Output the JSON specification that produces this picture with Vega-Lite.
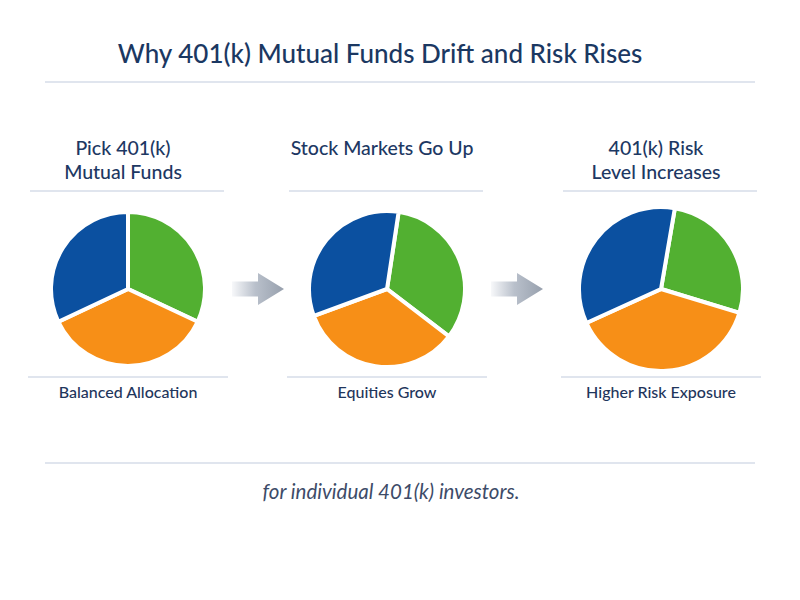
{
  "$schema": "https://vega.github.io/schema/vega-lite/v6.json",
  "width": 800,
  "height": 600,
  "padding": 0,
  "autosize": "none",
  "background": "#ffffff",
  "config": {
    "view": {"stroke": null},
    "font": "Lato",
    "text": {"font": "Lato"}
  },
  "datasets": {
    "funds": [
      {"step": 1, "fund": "Bonds", "share": 32},
      {"step": 1, "fund": "International", "share": 36},
      {"step": 1, "fund": "US Stocks", "share": 32},
      {"step": 2, "fund": "Bonds", "share": 33},
      {"step": 2, "fund": "International", "share": 34},
      {"step": 2, "fund": "US Stocks", "share": 33},
      {"step": 3, "fund": "Bonds", "share": 27},
      {"step": 3, "fund": "International", "share": 38.5},
      {"step": 3, "fund": "US Stocks", "share": 34.5}
    ],
    "stages": [
      {"step": 1, "heading": "Pick 401(k)\nMutual Funds", "caption": "Balanced Allocation", "next": true},
      {"step": 2, "heading": "Stock Markets Go Up", "caption": "Equities Grow", "next": true},
      {"step": 3, "heading": "401(k) Risk\nLevel Increases", "caption": "Higher Risk Exposure", "next": false}
    ],
    "notes": [
      {"title": "Why 401(k) Mutual Funds Drift and Risk Rises", "note": "for individual 401(k) investors."}
    ]
  },
  "resolve": {"scale": {"theta": "independent"}},
  "layer": [
    {
      "data": {"name": "notes"},
      "mark": {"type": "text", "fontSize": 26, "fontWeight": 500, "color": "#1b3862", "align": "center", "baseline": "alphabetic", "xOffset": -7},
      "encoding": {
        "x": {"datum": 2, "type": "quantitative", "axis": null,
              "scale": {"domain": [1, 2, 3], "range": [128, 387, 661], "nice": false, "zero": false}},
        "y": {"datum": 1, "type": "quantitative", "axis": null,
              "scale": {"domain": [1, 2, 3, 4, 5, 6, 7, 8, 9],
                        "range": [63, 82, 140, 191, 289, 377, 393, 463, 493], "nice": false, "zero": false}},
        "text": {"field": "title"}
      }
    },
    {
      "data": {"name": "notes"},
      "mark": {"type": "rule", "color": "#d6dde9", "strokeWidth": 1.5, "xOffset": -83, "x2Offset": 94},
      "encoding": {
        "x": {"datum": 1, "type": "quantitative"},
        "x2": {"datum": 3},
        "y": {"datum": 2, "type": "quantitative"}
      }
    },
    {
      "data": {"name": "stages"},
      "mark": {"type": "text", "fontSize": 19.5, "fontWeight": 500, "color": "#1d3863", "align": "center", "baseline": "top", "lineBreak": "\n", "lineHeight": 24, "xOffset": -5},
      "encoding": {
        "x": {"field": "step", "type": "quantitative"},
        "y": {"datum": 3, "type": "quantitative"},
        "text": {"field": "heading"}
      }
    },
    {
      "data": {"name": "stages"},
      "mark": {"type": "rule", "color": "#d6dde9", "strokeWidth": 1.5, "xOffset": -98, "x2Offset": 96},
      "encoding": {
        "x": {"field": "step", "type": "quantitative"},
        "x2": {"field": "step"},
        "y": {"datum": 4, "type": "quantitative"}
      }
    },
    {
      "data": {"name": "funds"},
      "transform": [{"filter": "datum.step === 1"}],
      "mark": {"type": "arc", "outerRadius": 77, "stroke": "#ffffff", "strokeWidth": 4},
      "encoding": {
        "x": {"datum": 1, "type": "quantitative"},
        "y": {"datum": 5, "type": "quantitative"},
        "theta": {"field": "share", "type": "quantitative", "stack": true, "scale": {"range": [0, 6.2832]}},
        "order": {"field": "fund"},
        "color": {"field": "fund", "type": "nominal", "legend": null,
                  "scale": {"domain": ["Bonds", "International", "US Stocks"], "range": ["#52b031", "#f78f17", "#0b50a0"]}}
      }
    },
    {
      "data": {"name": "funds"},
      "transform": [{"filter": "datum.step === 2"}],
      "mark": {"type": "arc", "outerRadius": 78, "stroke": "#ffffff", "strokeWidth": 4},
      "encoding": {
        "x": {"datum": 2, "type": "quantitative"},
        "y": {"datum": 5, "type": "quantitative"},
        "theta": {"field": "share", "type": "quantitative", "stack": true, "scale": {"range": [0.15, 6.4332]}},
        "order": {"field": "fund"},
        "color": {"field": "fund", "type": "nominal", "legend": null}
      }
    },
    {
      "data": {"name": "funds"},
      "transform": [{"filter": "datum.step === 3"}],
      "mark": {"type": "arc", "outerRadius": 82, "stroke": "#ffffff", "strokeWidth": 4},
      "encoding": {
        "x": {"datum": 3, "type": "quantitative"},
        "y": {"datum": 5, "type": "quantitative"},
        "theta": {"field": "share", "type": "quantitative", "stack": true, "scale": {"range": [0.17, 6.4532]}},
        "order": {"field": "fund"},
        "color": {"field": "fund", "type": "nominal", "legend": null}
      }
    },
    {
      "data": {"name": "stages"},
      "transform": [{"filter": "datum.next"}],
      "mark": {
        "type": "point",
        "filled": true,
        "opacity": 1,
        "size": 2704,
        "xOffset": 130,
        "shape": "M -1 -0.29 L 0 -0.29 L 0 -0.62 L 1 0 L 0 0.62 L 0 0.29 L -1 0.29 Z",
        "fill": {
          "gradient": "linear", "x1": 0, "y1": 0, "x2": 1, "y2": 0,
          "stops": [
            {"offset": 0, "color": "#f7f8fa"},
            {"offset": 0.45, "color": "#b9c0cb"},
            {"offset": 1, "color": "#97a0ad"}
          ]
        },
        "strokeWidth": 0
      },
      "encoding": {
        "x": {"field": "step", "type": "quantitative"},
        "y": {"datum": 5, "type": "quantitative"}
      }
    },
    {
      "data": {"name": "stages"},
      "mark": {"type": "rule", "color": "#d6dde9", "strokeWidth": 1.5, "xOffset": -100, "x2Offset": 100},
      "encoding": {
        "x": {"field": "step", "type": "quantitative"},
        "x2": {"field": "step"},
        "y": {"datum": 6, "type": "quantitative"}
      }
    },
    {
      "data": {"name": "stages"},
      "mark": {"type": "text", "fontSize": 16, "fontWeight": 500, "color": "#1f365c", "align": "center", "baseline": "middle"},
      "encoding": {
        "x": {"field": "step", "type": "quantitative"},
        "y": {"datum": 7, "type": "quantitative"},
        "text": {"field": "caption"}
      }
    },
    {
      "data": {"name": "notes"},
      "mark": {"type": "rule", "color": "#d6dde9", "strokeWidth": 1.5, "xOffset": -83, "x2Offset": 94},
      "encoding": {
        "x": {"datum": 1, "type": "quantitative"},
        "x2": {"datum": 3},
        "y": {"datum": 8, "type": "quantitative"}
      }
    },
    {
      "data": {"name": "notes"},
      "mark": {"type": "text", "fontSize": 20.5, "fontStyle": "italic", "color": "#3d4b68", "align": "center", "baseline": "middle", "xOffset": 4},
      "encoding": {
        "x": {"datum": 2, "type": "quantitative"},
        "y": {"datum": 9, "type": "quantitative"},
        "text": {"field": "note"}
      }
    }
  ]
}
